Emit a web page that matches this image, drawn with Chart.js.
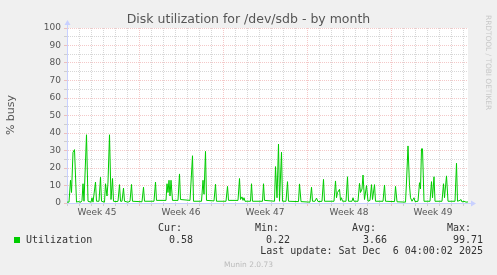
<!DOCTYPE html>
<html>
<head>
<meta charset="utf-8">
<script src="https://cdn.jsdelivr.net/npm/chart.js@4.4.1/dist/chart.umd.min.js"></script>
<style>
  html, body { margin: 0; padding: 0; background: #f0f0f0; }
  #wrap { position: relative; width: 497px; height: 275px; overflow: hidden; }
  #wrap canvas { position: absolute; left: 0; top: 0; }
  .t { position: absolute; white-space: pre; }
  .mono { font: 10px "DejaVu Sans Mono", monospace; color: #333; line-height: 12px; }
  .r { text-align: right; }
</style>
</head>
<body>
<div id="wrap">
  <canvas id="c" width="497" height="275"></canvas>
  <div class="t" style="left:0;width:497px;top:12px;text-align:center;font:12.5px 'DejaVu Sans';line-height:14px;color:#555">Disk utilization for /dev/sdb - by month</div>
  <div class="t" style="left:-15px;top:108px;width:52px;height:14px;text-align:center;font:11px 'DejaVu Sans';line-height:14px;color:#555;transform:rotate(-90deg)">% busy</div>
  <div class="t" style="left:484px;top:15px;font:7.4px 'DejaVu Sans';color:#c8c8c8;writing-mode:vertical-rl;line-height:8px">RRDTOOL / TOBI OETIKER</div>

  <div class="t mono" style="left:158px;top:222px">Cur:</div>
  <div class="t mono" style="left:255px;top:222px">Min:</div>
  <div class="t mono" style="left:352px;top:222px">Avg:</div>
  <div class="t mono" style="left:447px;top:222px">Max:</div>

  <div class="t" style="left:14px;top:237px;width:6px;height:6px;background:#00cc00"></div>
  <div class="t mono" style="left:26px;top:234px">Utilization</div>
  <div class="t mono r" style="right:304px;top:234px">0.58</div>
  <div class="t mono r" style="right:207px;top:234px">0.22</div>
  <div class="t mono r" style="right:110px;top:234px">3.66</div>
  <div class="t mono r" style="right:14px;top:234px">99.71</div>

  <div class="t mono r" style="right:14px;top:245px">Last update: Sat Dec  6 04:00:02 2025</div>
  <div class="t" style="left:0;width:497px;top:260px;text-align:center;font:7.5px 'DejaVu Sans';line-height:9px;color:#bbb">Munin 2.0.73</div>
</div>
<script>
// hours since start of the graph window, and % busy at that time
const hours = [0, 4, 7, 9, 12, 15, 19, 22, 28, 30, 32, 34, 39, 42, 48, 50, 52, 57, 59, 64, 67, 69,
  75, 77, 80, 82, 85, 88, 91, 93, 98, 102, 105, 107, 110, 113, 115, 122, 126, 129, 131,
  150, 153, 155, 174, 177, 179, 198, 200, 202, 204, 206, 208, 211, 222, 225, 227, 246, 251, 253,
  269, 272, 274, 277, 279, 294, 297, 299, 318, 321, 323, 342, 345, 347, 350, 352, 354, 356,
  367, 369, 371, 391, 393, 395, 415, 417, 420, 423, 425, 429, 431, 438, 441, 443,
  463, 465, 468, 486, 489, 491, 496, 499, 502, 510, 513, 515, 534, 537, 539, 541, 545, 547, 549, 551,
  558, 561, 563, 570, 572, 574, 582, 585, 587, 590, 592, 595, 599, 602, 606, 609, 611, 615, 617,
  632, 635, 637, 655, 657, 660, 677, 679, 682, 685, 687, 690, 694, 696,
  702, 705, 707, 709, 711, 714, 726, 729, 731, 734, 736, 750, 753, 755, 759, 762,
  776, 779, 781, 786, 788, 790, 794, 798, 802];
const busy = [0.5, 0.5, 13, 6, 29, 30.5, 0.5, 0.8, 0.5, 1.5, 11, 1, 39, 1, 0.5, 3, 0.5, 12, 1, 1, 14.7, 1,
  0.5, 11, 4, 12, 39, 2, 14, 1, 0.8, 1, 10.5, 1, 1, 8.5, 1, 0.5, 1, 10.6, 1,
  0.7, 9, 1, 1, 12, 1.5, 1.5, 11, 6, 13, 4, 13, 1.5, 1.5, 16.6, 2, 1.5, 27, 1,
  1, 13, 5, 29.5, 1.5, 1.2, 10.7, 1, 1, 9.5, 1.5, 1.5, 14, 2, 3.5, 1.5, 3, 1,
  1, 11, 1, 1, 11, 1.5, 1, 20.8, 3, 33.7, 1, 29, 1, 1, 12.2, 1,
  0.8, 10.9, 0.8, 0.5, 9, 1, 1, 2.8, 0.8, 1, 13.5, 1, 1, 12.6, 3, 6, 7.8, 1.5, 3, 1,
  1, 15, 1, 1, 3, 1, 1, 11.2, 6, 8, 16, 2, 10, 1, 1.5, 10.5, 2, 10.5, 1,
  1, 10.3, 1, 0.8, 9.5, 0.7, 0.5, 12, 32.6, 10, 3, 1, 3, 0.8,
  1, 11.6, 8, 31, 31, 1, 1, 12.2, 3, 15, 1, 1, 11, 3, 15.5, 1,
  1, 22.7, 1, 1.5, 2, 0.6, 1, 0.5, 0.6];
const weekLabels = ['Week 45', 'Week 46', 'Week 47', 'Week 48', 'Week 49'];
const weekLabelHours = [60, 228, 396, 564, 732];
const weekStartHours = [144, 312, 480, 648];

const points = hours.map((h, i) => ({x: h, y: busy[i]}));

const minorGrid = 'rgba(150,150,150,0.38)';
const majorGrid = 'rgba(225,110,110,0.38)';
const axisBlue = 'rgb(200,208,255)';

const plotBg = {
  id: 'plotBg',
  beforeDraw(chart) {
    const a = chart.chartArea, ctx = chart.ctx;
    ctx.save();
    ctx.fillStyle = '#fff';
    ctx.fillRect(a.left, a.top, a.right - a.left, a.bottom - a.top);
    ctx.restore();
  },
  afterDraw(chart) {
    const a = chart.chartArea, ctx = chart.ctx;
    ctx.save();
    ctx.strokeStyle = axisBlue; ctx.fillStyle = axisBlue; ctx.lineWidth = 1;
    ctx.beginPath();
    ctx.moveTo(a.left + 0.5, a.top); ctx.lineTo(a.left + 0.5, a.top - 4);
    ctx.moveTo(a.right, a.bottom + 0.5); ctx.lineTo(a.right + 4, a.bottom + 0.5);
    ctx.stroke();
    ctx.beginPath();
    ctx.moveTo(a.left - 2.5, a.top - 3); ctx.lineTo(a.left + 3.5, a.top - 3); ctx.lineTo(a.left + 0.5, a.top - 8);
    ctx.closePath(); ctx.fill();
    ctx.beginPath();
    ctx.moveTo(a.right + 3, a.bottom - 2.5); ctx.lineTo(a.right + 3, a.bottom + 3.5); ctx.lineTo(a.right + 8, a.bottom + 0.5);
    ctx.closePath(); ctx.fill();
    ctx.restore();
  }
};

function xGridColor(ctx) {
  const v = ctx.tick ? ctx.tick.value : -1;
  if (weekStartHours.includes(v)) return majorGrid;
  if (v % 24 === 0) return minorGrid;
  return 'rgba(0,0,0,0)';
}
function yGridColor(ctx) {
  const v = ctx.tick ? ctx.tick.value : -1;
  return v % 10 === 0 ? majorGrid : minorGrid;
}

new Chart(document.getElementById('c').getContext('2d'), {
  type: 'line',
  data: {datasets: [{label: 'Utilization', data: points, borderColor: '#00cc00', borderWidth: 1,
    pointRadius: 0, tension: 0, fill: false}]},
  options: {
    responsive: false, animation: false, devicePixelRatio: 1,
    layout: {padding: {top: 28, right: 29, left: 0, bottom: 0}},
    plugins: {legend: {display: false}, tooltip: {enabled: false}},
    scales: {
      x: {
        type: 'linear', min: 0, max: 802,
        afterBuildTicks: s => { const t = []; for (let h = 0; h <= 792; h += 12) t.push({value: h}); s.ticks = t; },
        afterFit: s => { s.height = 72; },
        grid: {color: xGridColor, tickColor: xGridColor, tickLength: 3},
        border: {color: axisBlue, dash: [1, 1]},
        ticks: {autoSkip: false, maxRotation: 0, padding: 1, color: '#555', font: {family: 'DejaVu Sans', size: 9},
          callback: v => { const i = weekLabelHours.indexOf(v); return i >= 0 ? weekLabels[i] : ''; }}
      },
      y: {
        min: 0, max: 100,
        afterFit: s => { s.width = 67; },
        grid: {color: yGridColor, tickColor: yGridColor, tickLength: 3},
        border: {color: axisBlue, dash: [1, 1]},
        ticks: {stepSize: 5, autoSkip: false, padding: 3, color: '#555', font: {family: 'DejaVu Sans', size: 9},
          callback: v => v % 10 === 0 ? String(v) : ''}
      }
    }
  },
  plugins: [plotBg]
});
</script>
</body>
</html>
